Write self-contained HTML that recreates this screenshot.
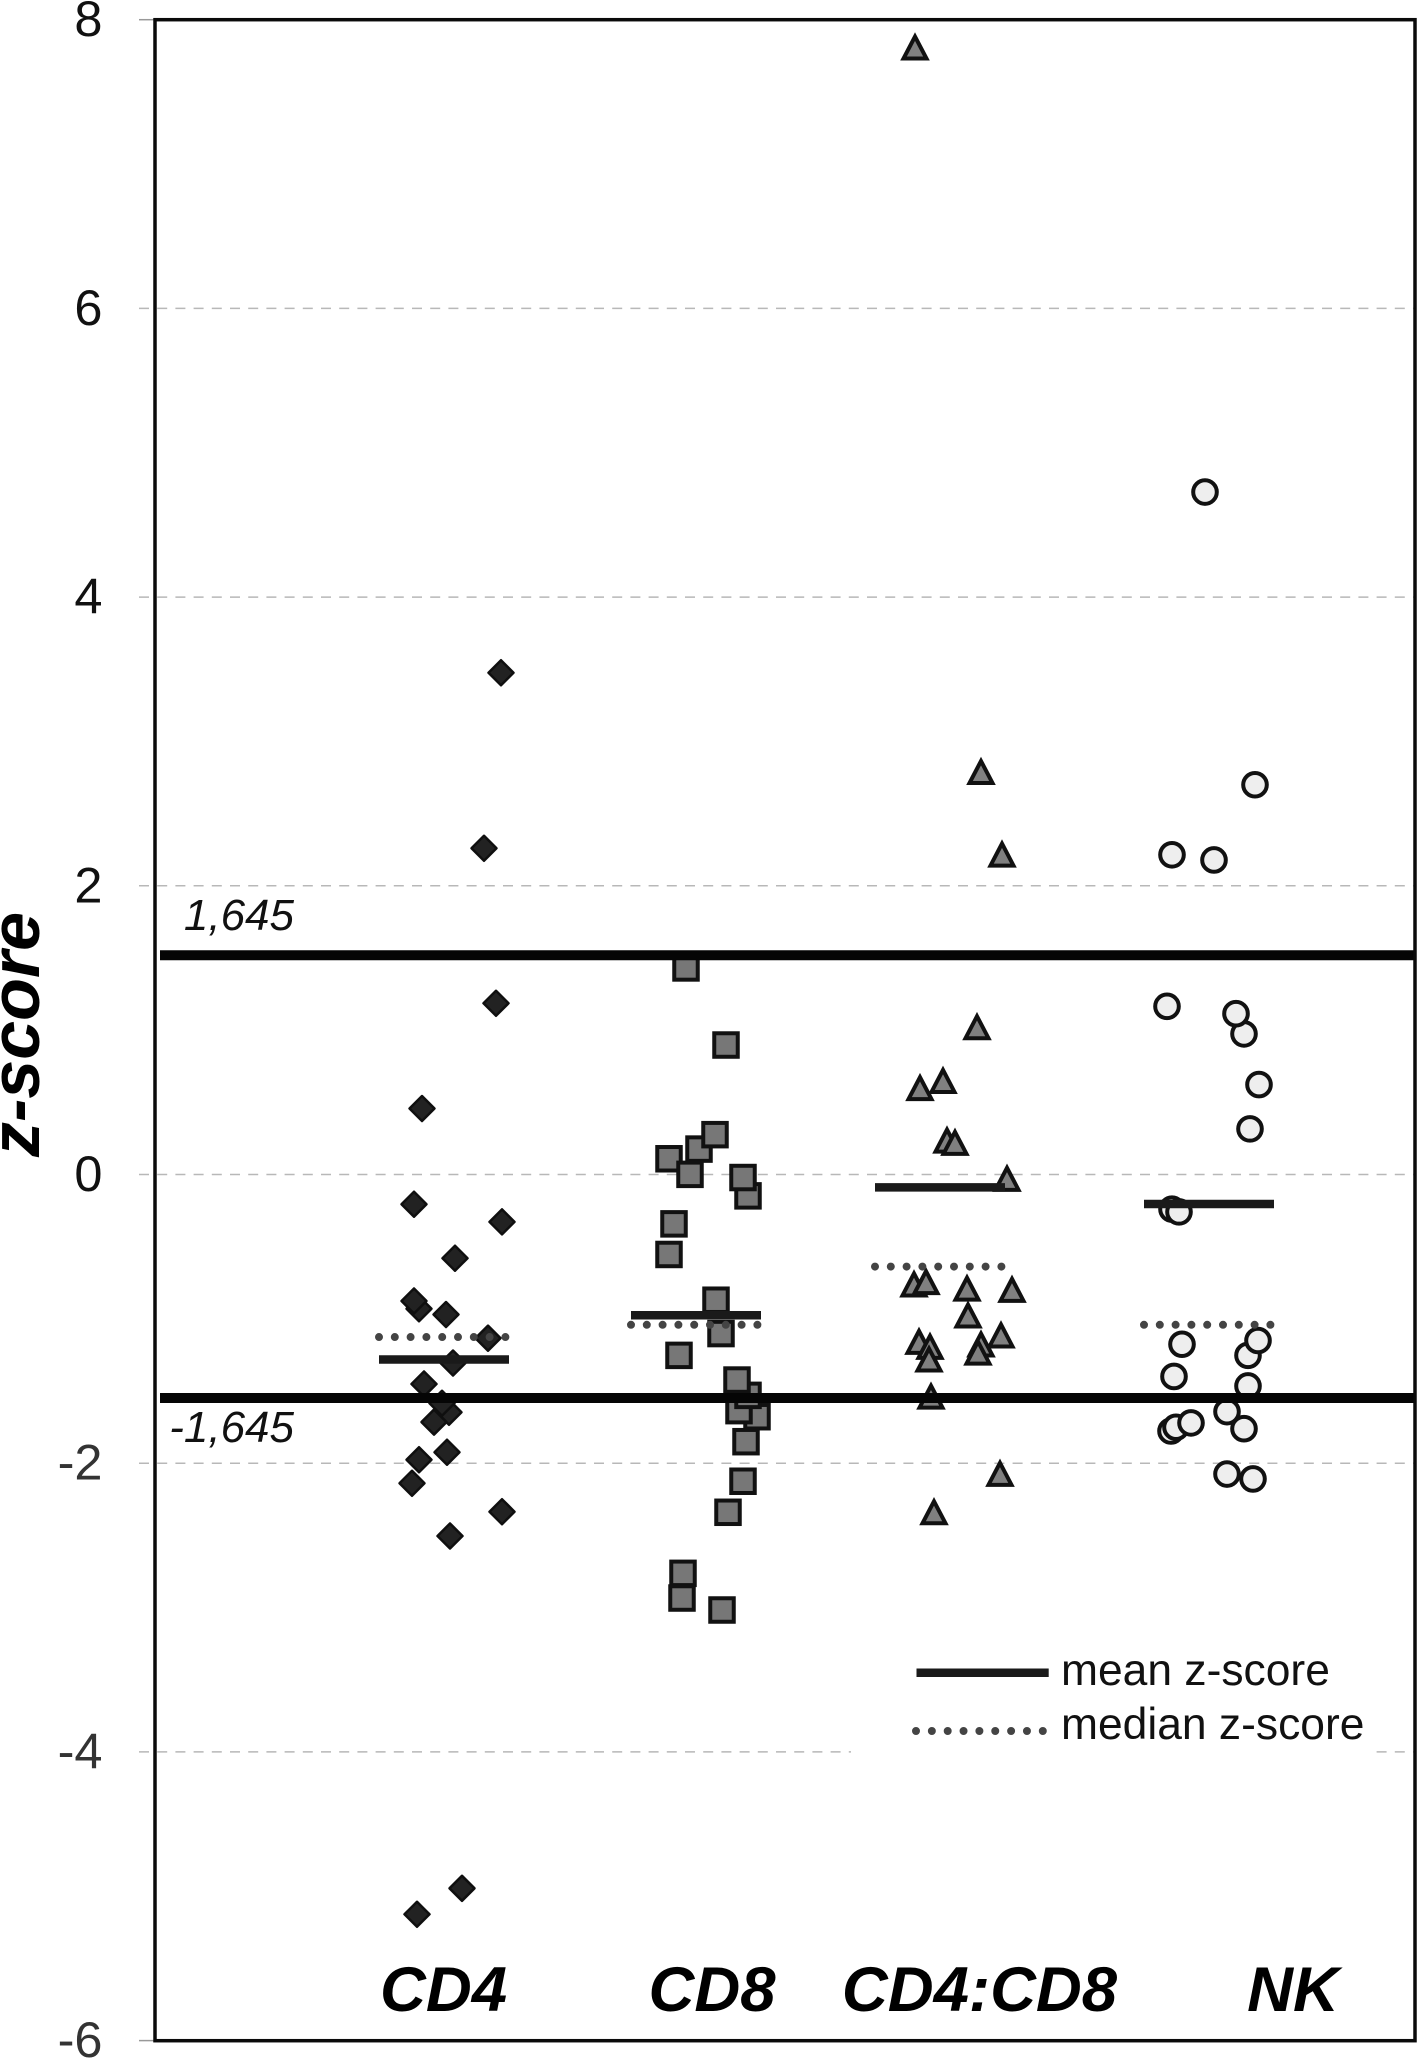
<!DOCTYPE html>
<html lang="en">
<head>
<meta charset="utf-8">
<title>z-score by cell population</title>
<style>
html,body{margin:0;padding:0;background:#fff;}
svg{display:block;}
text{font-family:"Liberation Sans",Arial,sans-serif;}
</style>
</head>
<body>
<svg id="chart" width="1417" height="2058" viewBox="0 0 1417 2058" xmlns="http://www.w3.org/2000/svg">
  <rect x="0" y="0" width="1417" height="2058" fill="#fff"/>
  <g id="grid"></g>
  <g id="yticks"></g>
  <g id="marks"></g>
  <g id="stats"></g>
  <g id="thresholds"></g>
  <rect x="155" y="19.7" width="1260" height="2021" fill="none" stroke="#0a0a0a" stroke-width="3.5"/>
  <text transform="translate(39 1157) rotate(-90)" font-size="70" font-weight="bold" font-style="italic" fill="#000">z-score</text>
  <g font-size="63.5" font-weight="bold" font-style="italic" fill="#000" text-anchor="middle">
    <text x="443.5" y="2011">CD4</text>
    <text x="712" y="2011">CD8</text>
    <text x="979.5" y="2011">CD4:CD8</text>
    <text x="1293" y="2011">NK</text>
  </g>
  <g>
    <rect x="851" y="1650" width="525" height="118" fill="#fff"/>
    <line x1="916.5" y1="1672.7" x2="1048.7" y2="1672.7" stroke="#1a1a1a" stroke-width="8.5"/>
    <text x="1061" y="1685" font-size="44.4" fill="#111">mean z-score</text>
    <line x1="916" y1="1731" x2="1044" y2="1731" stroke="#444" stroke-width="8" stroke-linecap="round" stroke-dasharray="0 15.85"/>
    <text x="1061" y="1739" font-size="44.4" fill="#111">median z-score</text>
  </g>
</svg>
<script>
// ---- chart data (z-scores and x-axis jitter positions, axis domain 0–12.6) ----
const yTickValues = [8, 6, 4, 2, 0, -2, -4, -6];
const yTickLabels = ['8', '6', '4', '2', '0', '-2', '-4', '-6'];
const categories = ['cd4', 'cd8', 'cd4-cd8', 'nk'];

const cd4X = [3.46, 3.29, 3.41, 2.67, 2.59, 3.47, 3.00, 2.64, 2.59, 2.91, 3.33, 2.98, 2.69, 2.94, 2.87, 2.79, 2.92, 2.64, 2.57, 3.47, 2.95, 3.07, 2.62];
const cd4Z = [3.476, 2.260, 1.186, 0.457, -0.206, -0.328, -0.580, -0.930, -0.876, -0.970, -1.134, -1.306, -1.451, -1.647, -1.585, -1.715, -1.924, -1.976, -2.139, -2.336, -2.504, -4.945, -5.125];

const cd8X = [5.31, 5.71, 5.44, 5.60, 5.14, 5.35, 5.93, 5.88, 5.19, 5.14, 5.61, 5.66, 5.24, 6.02, 5.84, 5.93, 5.82, 5.91, 5.88, 5.73, 5.28, 5.27, 5.67];
const cd8Z = [1.431, 0.897, 0.176, 0.276, 0.109, 0.001, -0.148, -0.021, -0.342, -0.554, -0.871, -1.102, -1.253, -1.678, -1.636, -1.530, -1.424, -1.851, -2.125, -2.340, -2.763, -2.934, -3.017];

const ratioX = [7.60, 8.26, 8.47, 8.22, 7.88, 7.65, 7.92, 8.00, 8.52, 7.59, 7.71, 8.12, 8.57, 8.13, 8.46, 7.64, 7.75, 8.26, 8.23, 7.74, 7.76, 8.45, 7.79];
const ratioZ = [7.814, 2.795, 2.223, 1.027, 0.655, 0.605, 0.242, 0.226, -0.023, -0.755, -0.739, -0.784, -0.792, -0.970, -1.108, -1.153, -1.187, -1.171, -1.227, -1.275, -1.532, -2.067, -2.333];

const nkX = [10.50, 11.00, 10.17, 10.59, 10.12, 10.89, 10.81, 11.04, 10.95, 10.17, 10.24, 10.27, 10.93, 11.03, 10.19, 10.93, 10.72, 10.16, 10.21, 10.36, 10.89, 10.72, 10.98];
const nkZ = [4.728, 2.700, 2.215, 2.179, 1.165, 0.974, 1.114, 0.623, 0.316, -0.240, -0.259, -1.176, -1.253, -1.150, -1.399, -1.465, -1.643, -1.777, -1.751, -1.721, -1.761, -2.075, -2.109];

const statCenters = [2.89, 5.41, 7.85, 10.54];
const meanValues = [-1.282, -0.975, -0.089, -0.204];
const medianValues = [-1.126, -1.041, -0.638, -1.041];
const thresholdValues = [1.519, -1.548];
const thresholdLabels = ['1,645', '-1,645'];

// ---- axis functions ----
const xScale = v => 155 + v * 100;
const yScale = z => 1174.5 - z * 144.35;

const SVG_NS = 'http://www.w3.org/2000/svg';
function make(tag, attrs, parent) {
  const el = document.createElementNS(SVG_NS, tag);
  for (const k in attrs) el.setAttribute(k, attrs[k]);
  parent.appendChild(el);
  return el;
}
const gridG = document.getElementById('grid');
const tickG = document.getElementById('yticks');
const marksG = document.getElementById('marks');
const statsG = document.getElementById('stats');
const thrG = document.getElementById('thresholds');

// grid lines and tick labels
yTickValues.forEach((t, i) => {
  const y = yScale(t);
  const isEnd = i === 0 || i === yTickValues.length - 1;
  const line = make('line', {
    x1: 139, y1: y, x2: isEnd ? 155 : 1415, y2: y,
    stroke: isEnd ? '#999' : '#b8b8b8',
    'stroke-width': 1.5,
    'stroke-dasharray': isEnd ? 'none' : '10 8.2'
  }, gridG);
  
  

  const label = make('text', {
    x: 102.5, y: y + 16.5, 'font-size': 50.5, 'text-anchor': 'end',
    fill: t < 0 ? '#333' : '#111'
  }, tickG);
  label.textContent = yTickLabels[i];
  
  
});

// series marks
function drawDiamond(x, z) {
  const cx = xScale(x), cy = yScale(z), r = 12.5;
  const el = make('polygon', {
    points: [cx, cy - r, cx + r, cy, cx, cy + r, cx - r, cy].join(' '),
    fill: '#222', stroke: '#0f0f0f', 'stroke-width': 2.5, 'stroke-linejoin': 'round'
  }, marksG);
  
  
}
function drawSquare(x, z) {
  const cx = xScale(x), cy = yScale(z), s = 23.5;
  const el = make('rect', {
    x: cx - s / 2, y: cy - s / 2, width: s, height: s,
    fill: '#777', stroke: '#111', 'stroke-width': 4
  }, marksG);
  
  
}
function drawTriangle(x, z) {
  const cx = xScale(x), cy = yScale(z);
  const el = make('polygon', {
    points: [cx, cy - 10, cx + 11.5, cy + 12, cx - 11.5, cy + 12].join(' '),
    fill: '#808080', stroke: '#111', 'stroke-width': 4, 'stroke-linejoin': 'miter'
  }, marksG);
  
  
}
function drawCircle(x, z) {
  const el = make('circle', {
    cx: xScale(x), cy: yScale(z), r: 11.8,
    fill: '#eee', stroke: '#111', 'stroke-width': 4
  }, marksG);
  
  
}
cd4X.forEach((x, i) => drawDiamond(x, cd4Z[i]));
cd8X.forEach((x, i) => drawSquare(x, cd8Z[i]));
ratioX.forEach((x, i) => drawTriangle(x, ratioZ[i]));
nkX.forEach((x, i) => drawCircle(x, nkZ[i]));

// mean and median segments
categories.forEach((c, i) => {
  const cx = statCenters[i];
  const med = make('line', {
    x1: xScale(cx - 0.65), x2: xScale(cx + 0.63),
    y1: yScale(medianValues[i]), y2: yScale(medianValues[i]),
    stroke: '#444', 'stroke-width': 8, 'stroke-linecap': 'round',
    'stroke-dasharray': '0 15.8'
  }, statsG);
  
  

  const mean = make('line', {
    x1: xScale(cx - 0.65), x2: xScale(cx + 0.65),
    y1: yScale(meanValues[i]), y2: yScale(meanValues[i]),
    stroke: '#1a1a1a', 'stroke-width': 8.5
  }, statsG);
  
  
});

// thresholds
thresholdValues.forEach((t, i) => {
  const y = yScale(t);
  const line = make('line', {
    x1: 160, x2: 1415, y1: y, y2: y, stroke: '#050505', 'stroke-width': 10
  }, thrG);
  
  

  const label = make('text', {
    x: 294, y: t > 0 ? y - 25 : y + 44, 'font-size': 44, 'font-style': 'italic',
    'text-anchor': 'end', fill: '#111'
  }, thrG);
  label.textContent = thresholdLabels[i];
  
  
});
</script>
</body>
</html>
